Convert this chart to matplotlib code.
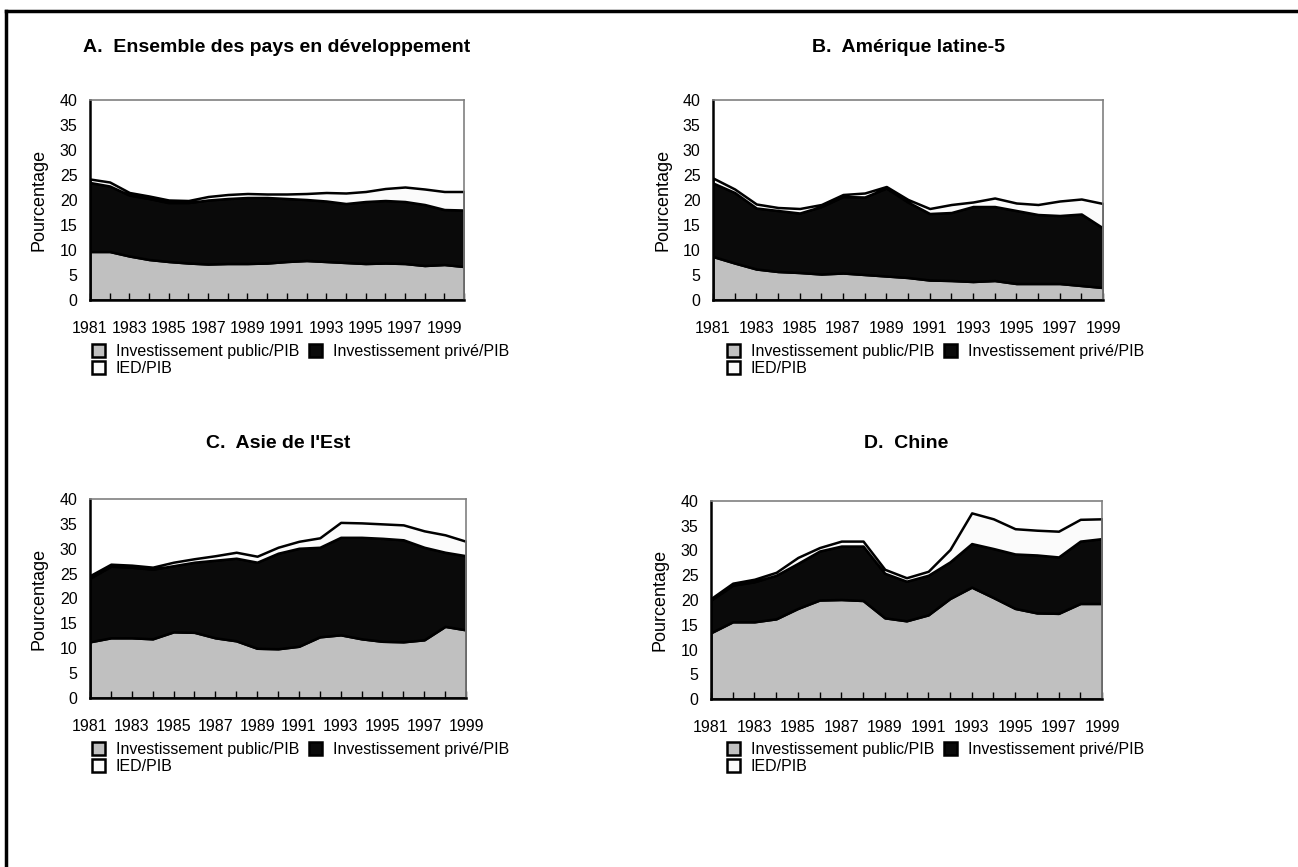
import numpy as np
import matplotlib
matplotlib.use("Agg")
import matplotlib.pyplot as plt
from matplotlib.lines import Line2D
from matplotlib.patches import Patch

plt.rcParams['font.family'] = ['Liberation Sans', 'DejaVu Sans']

# A. Ensemble des pays en développement (1981-2000)
years_a = list(range(1981, 2001))
public_a = [9.7, 9.7, 8.8, 8.1, 7.7, 7.4, 7.2, 7.3, 7.3, 7.4, 7.7, 7.9, 7.7, 7.5, 7.3, 7.4, 7.3, 6.9, 7.1, 6.7]
private_a = [13.8, 13.1, 12.2, 12.2, 11.8, 12.1, 12.8, 13.0, 13.2, 13.1, 12.6, 12.2, 12.1, 11.8, 12.4, 12.5, 12.4, 12.2, 11.0, 11.3]
ied_a = [0.7, 0.8, 0.5, 0.5, 0.5, 0.4, 0.7, 0.8, 0.8, 0.7, 0.9, 1.2, 1.7, 2.1, 2.0, 2.4, 2.9, 3.1, 3.6, 3.7]

# B. Amérique latine-5 (1981-1999)
years_b = list(range(1981, 2000))
public_b = [8.7, 7.4, 6.2, 5.7, 5.5, 5.2, 5.4, 5.1, 4.8, 4.5, 4.0, 3.9, 3.7, 3.9, 3.3, 3.3, 3.3, 2.9, 2.5]
private_b = [14.7, 14.1, 12.2, 12.2, 11.9, 13.5, 15.3, 15.5, 17.6, 15.1, 13.3, 13.6, 15.0, 14.8, 14.6, 13.8, 13.6, 14.3, 11.9]
ied_b = [1.0, 0.7, 0.8, 0.6, 0.9, 0.4, 0.4, 0.8, 0.3, 0.5, 1.0, 1.6, 0.9, 1.7, 1.5, 2.0, 2.9, 3.0, 4.9]

# C. Asie de l'Est
years_c = list(range(1981, 2000))
public_c = [11.3, 12.1, 12.1, 11.9, 13.3, 13.2, 12.1, 11.5, 10.0, 9.9, 10.4, 12.3, 12.7, 11.9, 11.4, 11.3, 11.7, 14.4, 13.7]
private_c = [12.8, 14.4, 14.2, 14.0, 13.3, 14.1, 15.6, 16.6, 17.3, 19.2, 19.7, 18.0, 19.6, 20.4, 20.7, 20.5, 18.6, 14.9, 14.9]
ied_c = [0.5, 0.4, 0.4, 0.4, 0.7, 0.7, 0.9, 1.2, 1.2, 1.2, 1.4, 1.9, 3.0, 2.9, 2.9, 3.0, 3.3, 3.5, 2.9]

# D. Chine
years_d = list(range(1981, 2000))
public_d = [13.4, 15.6, 15.6, 16.2, 18.3, 20.0, 20.1, 19.9, 16.4, 15.8, 17.0, 20.3, 22.6, 20.5, 18.3, 17.4, 17.3, 19.3, 19.3]
private_d = [6.6, 7.4, 8.1, 8.8, 9.1, 9.9, 10.8, 11.0, 9.0, 8.0, 8.0, 7.4, 8.8, 9.9, 11.0, 11.7, 11.4, 12.6, 13.1]
ied_d = [0.3, 0.4, 0.5, 0.6, 1.2, 0.7, 1.0, 1.0, 0.8, 0.7, 0.8, 2.5, 6.2, 6.0, 5.1, 5.0, 5.2, 4.4, 4.0]

titles = ["A.  Ensemble des pays en développement", "B.  Amérique latine-5",
          "C.  Asie de l'Est", "D.  Chine"]
series_names = ["Investissement public/PIB", "Investissement privé/PIB", "IED/PIB"]
colors = ["#c0c0c0", "#0a0a0a", "#fbfbfb"]

W, H = 1298, 867
fig = plt.figure(figsize=(W / 100, H / 100), dpi=100)

# axes boxes in pixels: left, top, right, bottom
boxes = [(90, 100, 464, 300), (713, 100, 1103, 300),
         (90, 499, 466, 698), (711, 501, 1102, 699)]
title_y = [47, 47, 444, 444]
legend_xy = [(92, 344), (727, 344), (92, 742), (727, 742)]
panels = [(years_a, public_a, private_a, ied_a),
          (years_b, public_b, private_b, ied_b),
          (years_c, public_c, private_c, ied_c),
          (years_d, public_d, private_d, ied_d)]

for i, ((l, t, r, b), (yrs, pub, pri, ied), title) in enumerate(zip(boxes, panels, titles)):
    ax = fig.add_axes([l / W, 1 - b / H, (r - l) / W, (b - t) / H])
    ax.stackplot(yrs, pub, pri, ied, colors=colors, edgecolor="black", linewidth=1.8)
    ax.set_xlim(yrs[0], yrs[-1])
    ax.set_ylim(0, 40)
    ax.set_yticks(range(0, 41, 5))
    ax.set_xticks(range(1981, 2000, 2))
    ax.set_xticks(yrs, minor=True)
    ax.tick_params(axis="x", which="both", direction="in", length=5, width=1, pad=15,
                   labelsize=11.5, color="black")
    ax.tick_params(axis="y", length=0, labelsize=11.5, pad=9)
    ax.set_ylabel("Pourcentage", fontsize=13)
    ax.yaxis.set_label_coords(-42 / (r - l), 0.5)
    for side in ("top", "right"):
        ax.spines[side].set_color("#808080")
        ax.spines[side].set_linewidth(1.2)
    for side in ("left", "bottom"):
        ax.spines[side].set_color("black")
        ax.spines[side].set_linewidth(1.8)

    fig.text((l + r) / 2 / W, 1 - title_y[i] / H, title, ha="center", va="center",
             fontsize=14, fontweight="bold")

    # legend: public and privé on the first row, IED below
    handles = [Patch(facecolor=c, edgecolor="black", linewidth=1.8) for c in colors]
    order = [0, 2, 1]
    lx, ly = legend_xy[i]
    fig.legend([handles[k] for k in order], [series_names[k] for k in order],
               loc="upper left", bbox_to_anchor=(lx / W, 1 - ly / H),
               ncol=2, frameon=False, fontsize=11.5, handlelength=0.8, handleheight=0.8,
               handletextpad=0.7, columnspacing=0.6, labelspacing=0.13,
               borderpad=0, borderaxespad=0)

# page frame on the top and left
fig.add_artist(Line2D([6 / W, 6 / W], [0, 1 - 11 / H], color="black", linewidth=2.5))
fig.add_artist(Line2D([6 / W, 1], [1 - 11 / H, 1 - 11 / H], color="black", linewidth=2.5))

fig.savefig("out.png", dpi=100)
